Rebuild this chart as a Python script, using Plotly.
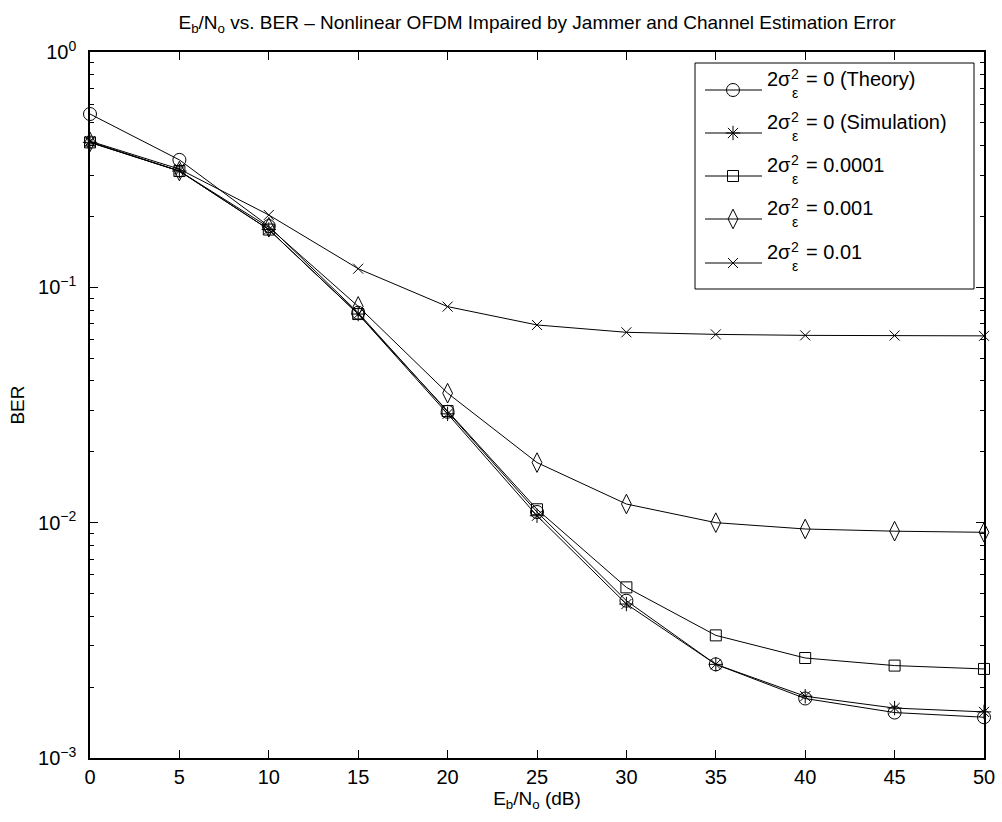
import plotly.graph_objects as go

# ---------------- data ----------------
ebno_db = [0, 5, 10, 15, 20, 25, 30, 35, 40, 45, 50]
ber_theory = [0.545, 0.348, 0.182, 0.078, 0.0296, 0.0111, 0.00466, 0.00250, 0.00179, 0.00156, 0.00149]
ber_sim = [0.413, 0.312, 0.176, 0.077, 0.0290, 0.0107, 0.00451, 0.00250, 0.00183, 0.00163, 0.00157]
ber_e0001 = [0.413, 0.312, 0.176, 0.077, 0.0298, 0.0114, 0.00531, 0.00332, 0.00266, 0.00247, 0.00239]
ber_e001 = [0.415, 0.312, 0.180, 0.083, 0.0355, 0.0180, 0.0120, 0.0100, 0.0094, 0.0092, 0.0091]
ber_e01 = [0.418, 0.318, 0.203, 0.120, 0.0828, 0.0692, 0.0644, 0.0631, 0.0625, 0.0624, 0.0622]

legend_rest = ["= 0 (Theory)", "= 0 (Simulation)", "= 0.0001", "= 0.001", "= 0.01"]
x_ticks = [0, 5, 10, 15, 20, 25, 30, 35, 40, 45, 50]
y_ticks = [1e-3, 1e-2, 1e-1, 1]
y_ticktext = ["10<sup>\u22123</sup>", "10<sup>\u22122</sup>", "10<sup>\u22121</sup>", "10<sup>0</sup>"]

series = [ber_theory, ber_sim, ber_e0001, ber_e001, ber_e01]
symbols = ["circle-open", "asterisk-open", "square-open", "diamond-tall-open", "x-thin-open"]
msizes = [13, 12, 11, 14, 10]

FONT = "Liberation Sans, Arial, Helvetica, sans-serif"
W, H = 1002, 822
L, R, T, B = 90, 984, 52, 758


def px(xp):
    return (xp - L) / (R - L)


def py(yp):
    return (B - yp) / (B - T)


fig = go.Figure()

for ys, sym, ms, name in zip(series, symbols, msizes, legend_rest):
    fig.add_trace(go.Scatter(
        x=ebno_db, y=ys, mode="lines+markers", name=name,
        line=dict(color="black", width=1),
        marker=dict(symbol=sym, size=ms, color="black", line=dict(color="black", width=1)),
        cliponaxis=False, showlegend=False,
    ))

# ---------------- custom legend (MATLAB-like) ----------------
row_y = [90, 133, 176, 219, 263]
shapes = [dict(type="rect", xref="paper", yref="paper",
               x0=px(695), x1=px(974), y0=py(289), y1=py(63),
               line=dict(color="black", width=1), fillcolor="white", layer="below")]
annotations = []
for ry, sym, ms, rest in zip(row_y, symbols, msizes, legend_rest):
    shapes.append(dict(type="line", xref="paper", yref="paper",
                       x0=px(705), x1=px(762), y0=py(ry), y1=py(ry),
                       line=dict(color="black", width=1)))
    fig.add_trace(go.Scatter(
        x=[px(733)], y=[py(ry)], xaxis="x2", yaxis="y2", mode="markers",
        marker=dict(symbol=sym, size=ms, color="black", line=dict(color="black", width=1)),
        showlegend=False, hoverinfo="skip", cliponaxis=False,
    ))
    annotations.append(dict(xref="paper", yref="paper", x=px(766), y=py(ry - 11),
                            xanchor="left", yanchor="middle", text="2\u03c3", showarrow=False,
                            font=dict(family=FONT, size=20, color="black"), borderpad=0))
    annotations.append(dict(xref="paper", yref="paper", x=px(790), y=py(ry - 16),
                            xanchor="left", yanchor="middle", text="2", showarrow=False,
                            font=dict(family=FONT, size=14, color="black"), borderpad=0))
    annotations.append(dict(xref="paper", yref="paper", x=px(791), y=py(ry + 3),
                            xanchor="left", yanchor="middle", text="\u03b5", showarrow=False,
                            font=dict(family=FONT, size=14, color="black"), borderpad=0))
    annotations.append(dict(xref="paper", yref="paper", x=px(805), y=py(ry - 11),
                            xanchor="left", yanchor="middle", text=rest, showarrow=False,
                            font=dict(family=FONT, size=20, color="black"), borderpad=0))

minor_vals = [m * 10 ** e for e in (-3, -2, -1) for m in range(2, 10)]

fig.update_layout(
    width=W, height=H,
    margin=dict(l=L, r=W - R, t=T, b=H - B, autoexpand=False),
    paper_bgcolor="white", plot_bgcolor="white",
    font=dict(family=FONT, size=20, color="black"),
    title=dict(text="E<sub>b</sub>/N<sub>o</sub> vs. BER \u2013 Nonlinear OFDM Impaired by Jammer and Channel Estimation Error",
               x=(L + R) / 2 / W, xanchor="center", xref="container",
               y=1 - 22 / H, yanchor="middle", yref="container",
               font=dict(family=FONT, size=19, color="black")),
    xaxis=dict(range=[0, 50], tickmode="array", tickvals=x_ticks,
               ticks="inside", ticklen=8, tickcolor="black", tickwidth=1,
               showline=True, linecolor="black", linewidth=1.5, mirror="ticks",
               showgrid=False, zeroline=False,
               tickfont=dict(family=FONT, size=20, color="black"),
               title=dict(text="E<sub>b</sub>/N<sub>o</sub> (dB)", standoff=4,
                          font=dict(family=FONT, size=19, color="black"))),
    yaxis=dict(type="log", range=[-3, 0], tickmode="array", tickvals=y_ticks, ticktext=y_ticktext,
               ticks="inside", ticklen=8, tickcolor="black", tickwidth=1,
               ticklabelstandoff=8,
               minor=dict(tickmode="array", tickvals=minor_vals, ticks="inside", ticklen=4,
                          tickcolor="black", tickwidth=1, showgrid=False),
               showline=True, linecolor="black", linewidth=1.5, mirror="ticks",
               showgrid=False, zeroline=False,
               tickfont=dict(family=FONT, size=20, color="black"),
               title=dict(text="BER", standoff=8,
                          font=dict(family=FONT, size=19, color="black"))),
    xaxis2=dict(overlaying="x", range=[0, 1], visible=False, domain=[0, 1]),
    yaxis2=dict(overlaying="y", range=[0, 1], visible=False, domain=[0, 1]),
    shapes=shapes, annotations=annotations,
)

fig.write_html("out.html")
